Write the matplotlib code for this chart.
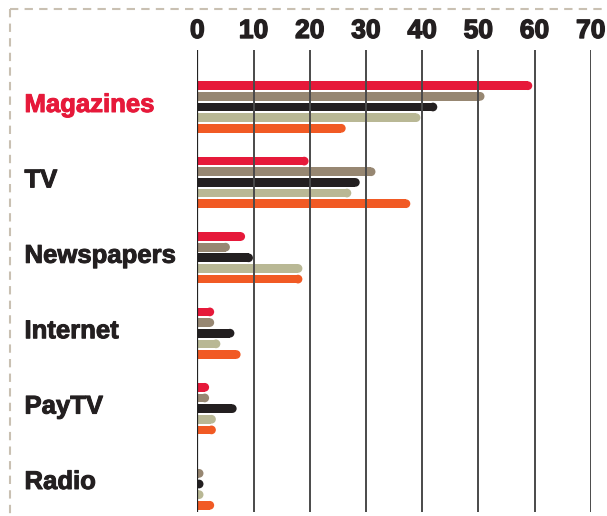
import matplotlib
matplotlib.use("Agg")
import matplotlib.pyplot as plt
from matplotlib.patches import Ellipse
from matplotlib.lines import Line2D
from matplotlib.transforms import blended_transform_factory
import matplotlib.patheffects as pe

categories = ["Magazines", "TV", "Newspapers", "Internet", "PayTV", "Radio"]
series_colors = ["#E6193A", "#978772", "#231F20", "#B9B895", "#F15A24"]
s1 = [59.6, 19.8, 8.5, 3.0, 2.1, 0.0]
s2 = [51.1, 31.7, 5.8, 3.0, 2.1, 1.1]
s3 = [42.7, 28.9, 9.9, 6.6, 7.0, 1.1]
s4 = [39.7, 27.4, 18.7, 4.1, 3.3, 1.1]
s5 = [26.4, 37.9, 18.7, 7.7, 3.3, 3.0]
series = [s1, s2, s3, s4, s5]
xticks = [0, 10, 20, 30, 40, 50, 60, 70]
label_colors = ["#E6193A", "#231F20", "#231F20", "#231F20", "#231F20", "#231F20"]

W, H = 607, 516
fig = plt.figure(figsize=(W / 100, H / 100), dpi=100)
fig.patch.set_facecolor("white")

x0_px, x70_px = 197.3, 590.7
top_px, bot_px = 50, 512
ax = fig.add_axes([x0_px / W, 1 - bot_px / H, (x70_px - x0_px) / W, (bot_px - top_px) / H])
group_px = 75.4
c0_px = 107.0
ax.set_xlim(0, 70)
ax.set_ylim((bot_px - c0_px) / group_px, (top_px - c0_px) / group_px)
ax.axis("off")

step = 10.65 / group_px
bh = 8.7 / group_px
px_per_unit = (x70_px - x0_px) / 70
rx = (bh * group_px / 2) / px_per_unit  # cap radius in x data units

for j, vals in enumerate(series):
    for i, v in enumerate(vals):
        if v <= 0:
            continue
        y = i + (j - 2) * step
        body = max(v - rx, 0)
        ax.barh(y, body, height=bh, left=0, color=series_colors[j], linewidth=0, zorder=2)
        e = Ellipse((v - rx, y), 2 * rx, bh, facecolor=series_colors[j], edgecolor="none", zorder=2)
        ax.add_patch(e)

for t in xticks:
    ax.axvline(t, color="#222222" if t == 0 else "#4a4a4a", lw=1.6 if t == 0 else 1.4, zorder=3)
    ax.text(t, (top_px - 19 - c0_px) / group_px, str(t), ha="center", va="center",
            fontsize=19, fontweight="bold", color="#231F20", family="Liberation Sans",
            path_effects=[pe.withStroke(linewidth=1.0, foreground="#231F20")])

trans = blended_transform_factory(fig.transFigure, ax.transData)
for i, (cat, col) in enumerate(zip(categories, label_colors)):
    ax.text(24.5 / W, i + 5.0 / group_px, cat, transform=trans, ha="left", va="baseline",
            fontsize=18.5, fontweight="bold", color=col, family="Liberation Sans", clip_on=False,
            path_effects=[pe.withStroke(linewidth=0.7, foreground=col)])

border_col = "#C9C0B2"
fig.add_artist(Line2D([10 / W, 1.0], [1 - 9 / H, 1 - 9 / H], transform=fig.transFigure,
                      color=border_col, lw=1.5, linestyle=(0, (4, 3))))
fig.add_artist(Line2D([10 / W, 10 / W], [1 - 9 / H, 0], transform=fig.transFigure,
                      color=border_col, lw=1.5, linestyle=(0, (4, 3))))

fig.savefig("out.png", dpi=100, facecolor="white")
